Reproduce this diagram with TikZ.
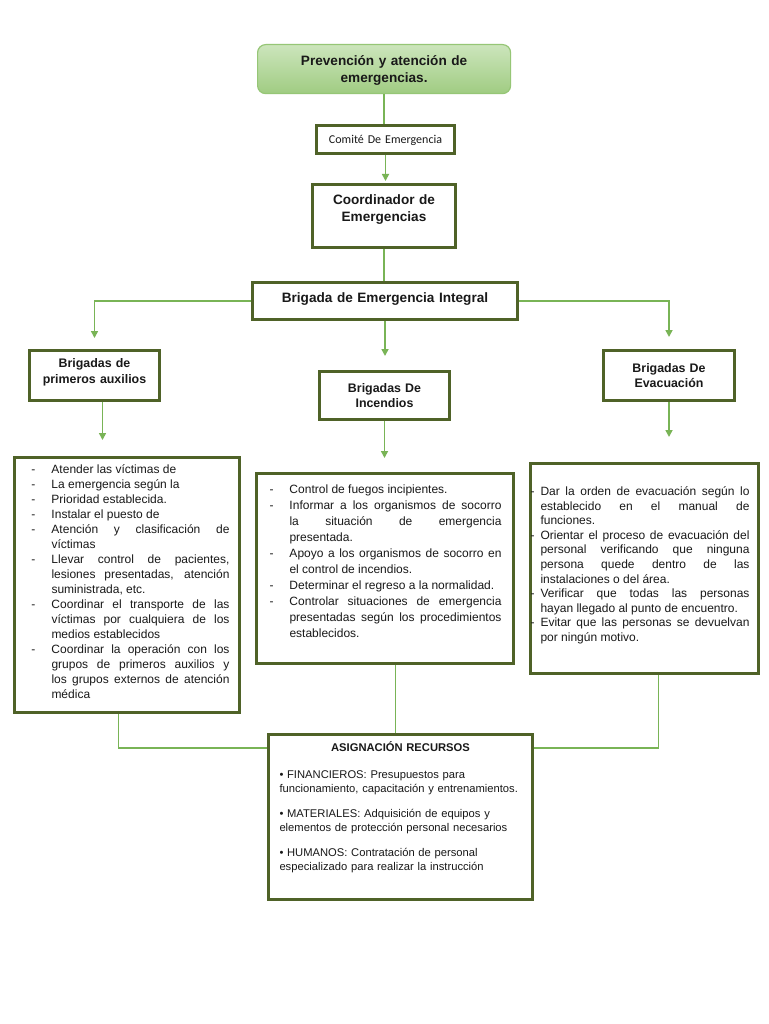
\documentclass[tikz,border=0pt]{standalone}
\usepackage{fontspec}
\setmainfont{Liberation Sans}
\newfontfamily\carlito{Carlito}
\usetikzlibrary{arrows.meta}

\definecolor{verdeoscuro}{RGB}{79,98,40}
\definecolor{verdelinea}{RGB}{121,180,86}
\definecolor{verdeclaro}{RGB}{204,229,188}
\definecolor{verdemedio}{RGB}{160,204,130}
\definecolor{bordetitulo}{RGB}{150,198,118}

\newcommand\guion[2]{\hangindent=#1\hangafter=1\leavevmode\makebox[#1][l]{-}#2\par}
\newcommand\margenes[2]{\leftskip=#1\rightskip=#2\parfillskip=0pt plus 1fil\emergencystretch=0pt}

\tikzset{
  caja/.style={draw=verdeoscuro, line width=3pt, fill=white, inner sep=0pt,
    anchor=north west, align=center, text=black!90},
  lista/.style={caja, align=justify, font=\fontsize{12}{15}\selectfont},
  linea/.style={draw=verdelinea, line width=1.6pt},
  flecha/.style={linea, -{Triangle[length=7pt,width=7pt]}}
}

\begin{document}
\begin{tikzpicture}[x=1pt,y=-1pt]
\useasboundingbox[fill=white] (0,0) rectangle (768,1024);

\node[caja, draw=bordetitulo, line width=1.2pt, rounded corners=8pt,
  top color=verdeclaro, bottom color=verdemedio, text width=253pt,
  text height=21pt, text depth=28pt, font=\bfseries\fontsize{13.6}{17}\selectfont]
  (titulo) at (257,44) {Prevención y atención de\\emergencias.};
\node[caja, text width=138pt, text height=18pt, text depth=10pt,
  font=\carlito\fontsize{12}{14}\selectfont] (comite) at (315,124) {Comité De Emergencia};
\node[caja, text width=143pt, text height=20pt, text depth=43pt,
  font=\bfseries\fontsize{13.6}{17}\selectfont] (coordinador) at (311,183) {Coordinador de\\Emergencias};
\node[caja, text width=265pt, text height=20pt, text depth=17pt,
  font=\bfseries\fontsize{13.6}{17}\selectfont] (integral) at (251,281) {Brigada de Emergencia Integral};

\node[caja, text width=130pt, text height=16.5pt, text depth=33.5pt,
  font=\bfseries\fontsize{12.4}{16}\selectfont] (auxilios) at (28,349) {Brigadas de\\primeros auxilios};
\node[caja, text width=130pt, text height=21pt, text depth=27pt,
  font=\bfseries\fontsize{12.4}{15}\selectfont] (incendios) at (318,370) {Brigadas De\\Incendios};
\node[caja, text width=131pt, text height=22pt, text depth=28pt,
  font=\bfseries\fontsize{12.4}{15}\selectfont] (evacuacion) at (602,349) {Brigadas De\\Evacuación};

\node[lista, text width=225pt, text height=16pt, text depth=239pt] (listaaux) at (13,456) {%
\margenes{17pt}{10pt}%
\guion{20pt}{Atender las víctimas de}
\guion{20pt}{La emergencia según la}
\guion{20pt}{Prioridad establecida.}
\guion{20pt}{Instalar el puesto de}
\guion{20pt}{Atención y clasificación de\linebreak víctimas}
\guion{20pt}{Llevar control de pacientes,\linebreak lesiones presentadas, atención\linebreak suministrada, etc.}
\guion{20pt}{Coordinar el transporte de las\linebreak víctimas por cualquiera de los\linebreak medios establecidos}
\guion{20pt}{Coordinar la operación con los\linebreak grupos de primeros auxilios y\linebreak los grupos externos de atención\linebreak médica}};

\node[lista, text width=257pt, text height=20pt, text depth=170pt,
  font=\fontsize{12}{16}\selectfont] (listainc) at (255,472) {%
\margenes{13pt}{12pt}%
\guion{20pt}{Control de fuegos incipientes.}
\guion{20pt}{Informar a los organismos de socorro\linebreak la situación de emergencia\linebreak presentada.}
\guion{20pt}{Apoyo a los organismos de socorro en\linebreak el control de incendios.}
\guion{20pt}{Determinar el regreso a la normalidad.}
\guion{20pt}{Controlar situaciones de emergencia\linebreak presentadas según los procedimientos\linebreak establecidos.}};

\node[lista, text width=228pt, text height=32pt, text depth=178pt,
  font=\fontsize{12}{14.6}\selectfont] (listaevac) at (529,462) {%
\margenes{0pt}{9pt}%
\guion{10pt}{Dar la orden de evacuación según lo\linebreak establecido en el manual de\linebreak funciones.}
\guion{10pt}{Orientar el proceso de evacuación del\linebreak personal verificando que ninguna\linebreak persona quede dentro de las\linebreak instalaciones o del área.}
\guion{10pt}{Verificar que todas las personas\linebreak hayan llegado al punto de encuentro.}
\guion{10pt}{Evitar que las personas se devuelvan\linebreak por ningún motivo.}};

\node[caja, align=left, text width=264pt, text height=17pt, text depth=148pt,
  font=\fontsize{11.2}{14}\selectfont] (recursos) at (267,733) {%
{\leftskip=0pt plus 1fil\rightskip=0pt plus 1fil\parfillskip=0pt\bfseries ASIGNACIÓN RECURSOS\par}
\vspace{12.5pt}
\leftskip=11pt\rightskip=0pt plus 1fil
• FINANCIEROS: Presupuestos para\\
funcionamiento, capacitación y entrenamientos.\par
\vspace{11pt}
• MATERIALES: Adquisición de equipos y\\
elementos de protección personal necesarios\par
\vspace{11pt}
• HUMANOS: Contratación de personal\\
especializado para realizar la instrucción\par};

\draw[linea] (titulo.south) -- (titulo.south |- comite.north);
\draw[flecha, shorten >=2pt] (comite.south) -- (comite.south |- coordinador.north);
\draw[linea] (coordinador.south) -- (coordinador.south |- integral.north);
\draw[flecha, shorten >=11pt] (integral.west) -| (auxilios.north);
\draw[flecha, shorten >=12pt] (integral.east) -| (evacuacion.north);
\draw[flecha, shorten >=14pt] (integral.south) -- (integral.south |- incendios.north);

\draw[flecha, shorten >=16pt] ([xshift=8pt]auxilios.south) -- ([xshift=8pt]auxilios.south |- listaaux.north);
\draw[flecha, shorten >=14pt] (incendios.south) -- (incendios.south |- listainc.north);
\draw[flecha, shorten >=25pt] (evacuacion.south) -- (evacuacion.south |- listaevac.north);

\draw[linea] ([xshift=-8.5pt]listaaux.south) |- ([yshift=-15pt]recursos.north west);
\draw[linea] ([xshift=10.5pt]listainc.south) -- ([xshift=10.5pt]listainc.south |- recursos.north);
\draw[linea] ([xshift=14pt]listaevac.south) |- ([yshift=-15pt]recursos.north east);
\end{tikzpicture}
\end{document}
